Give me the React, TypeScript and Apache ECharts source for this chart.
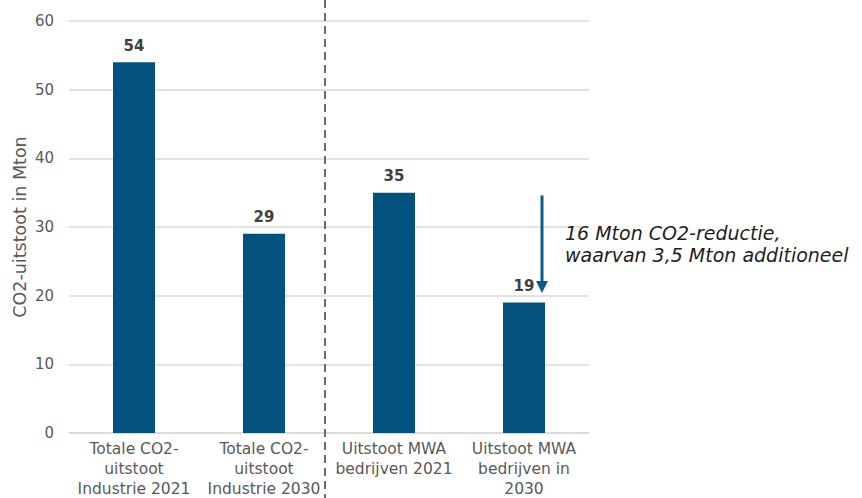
import React, { useEffect, useRef } from "react";
import * as echarts from "echarts";

const categories = [
  "Totale CO2-\nuitstoot\nIndustrie 2021",
  "Totale CO2-\nuitstoot\nIndustrie 2030",
  "Uitstoot MWA\nbedrijven 2021",
  "Uitstoot MWA\nbedrijven in\n2030",
];
const values = [54, 29, 35, 19];
const yTicks = { min: 0, max: 60, interval: 10 };
const arrowFrom = 34.6;
const arrowTo = 20.4;
const annotation = "16 Mton CO2-reductie,\nwaarvan 3,5 Mton additioneel";
const yName = "CO2-uitstoot in Mton";

export default function App() {
  const ref = useRef<HTMLDivElement>(null);
  useEffect(() => {
    document.body.style.margin = "0";
    const chart = echarts.init(ref.current!, null, { renderer: "svg" });
    const font = "DejaVu Sans";
    chart.setOption({
      animation: false,
      textStyle: { fontFamily: font },
      grid: { left: 69, right: 273, top: 21, bottom: 65, outerBoundsMode: "none", containLabel: false },
      xAxis: {
        type: "category",
        data: categories,
        axisTick: { show: false },
        axisLine: { lineStyle: { color: "#d9d9d9", width: 1.5 } },
        axisLabel: {
          interval: 0,
          color: "#595959",
          fontSize: 15.5,
          lineHeight: 20,
          margin: 6,
          fontFamily: font,
        },
      },
      yAxis: {
        type: "value",
        min: yTicks.min,
        max: yTicks.max,
        interval: yTicks.interval,
        name: yName,
        nameLocation: "middle",
        nameGap: 40,
        nameMoveOverlap: false,
        nameTextStyle: { color: "#595959", fontSize: 17.5, fontFamily: font },
        axisLabel: { color: "#595959", fontSize: 15, margin: 15, fontFamily: font },
        splitLine: { lineStyle: { color: "#d9d9d9", width: 1.5 } },
        axisLine: { show: false },
        axisTick: { show: false },
      },
      series: [
        {
          type: "bar",
          data: values,
          barWidth: 42,
          itemStyle: { color: "#02517f" },
          label: {
            show: true,
            position: "top",
            distance: 9,
            color: "#404040",
            fontWeight: "bold",
            fontSize: 15,
            fontFamily: font,
          },
        },
      ],
    });

    const p1 = chart.convertToPixel({ gridIndex: 0 }, [1, 0]) as number[];
    const p2 = chart.convertToPixel({ gridIndex: 0 }, [2, 0]) as number[];
    const p3 = chart.convertToPixel({ gridIndex: 0 }, [3, arrowFrom]) as number[];
    const p4 = chart.convertToPixel({ gridIndex: 0 }, [3, arrowTo]) as number[];
    const divX = (p1[0] + p2[0]) / 2 - 4;
    const ax = p3[0] + 18;
    const tip = p4[1];
    chart.setOption({
      graphic: [
        {
          type: "line",
          shape: { x1: divX, y1: 0, x2: divX, y2: 498 },
          style: { stroke: "#6b6b6b", lineWidth: 2, lineDash: [8, 5] },
          z: 10,
        },
        {
          type: "line",
          shape: { x1: ax, y1: p3[1], x2: ax, y2: tip - 10 },
          style: { stroke: "#0d5a8c", lineWidth: 3 },
          z: 10,
        },
        {
          type: "polygon",
          shape: { points: [[ax - 6, tip - 12], [ax + 6, tip - 12], [ax, tip]] },
          style: { fill: "#0d5a8c" },
          z: 10,
        },
        {
          type: "text",
          x: ax + 23,
          y: p3[1] + 27,
          style: {
            text: annotation,
            fontFamily: font,
            fontStyle: "italic",
            fontSize: 19,
            lineHeight: 22,
            fill: "#1e1e1e",
          },
          z: 10,
        },
      ],
    });
    return () => chart.dispose();
  }, []);
  return <div ref={ref} style={{ width: 862, height: 498 }} />;
}
